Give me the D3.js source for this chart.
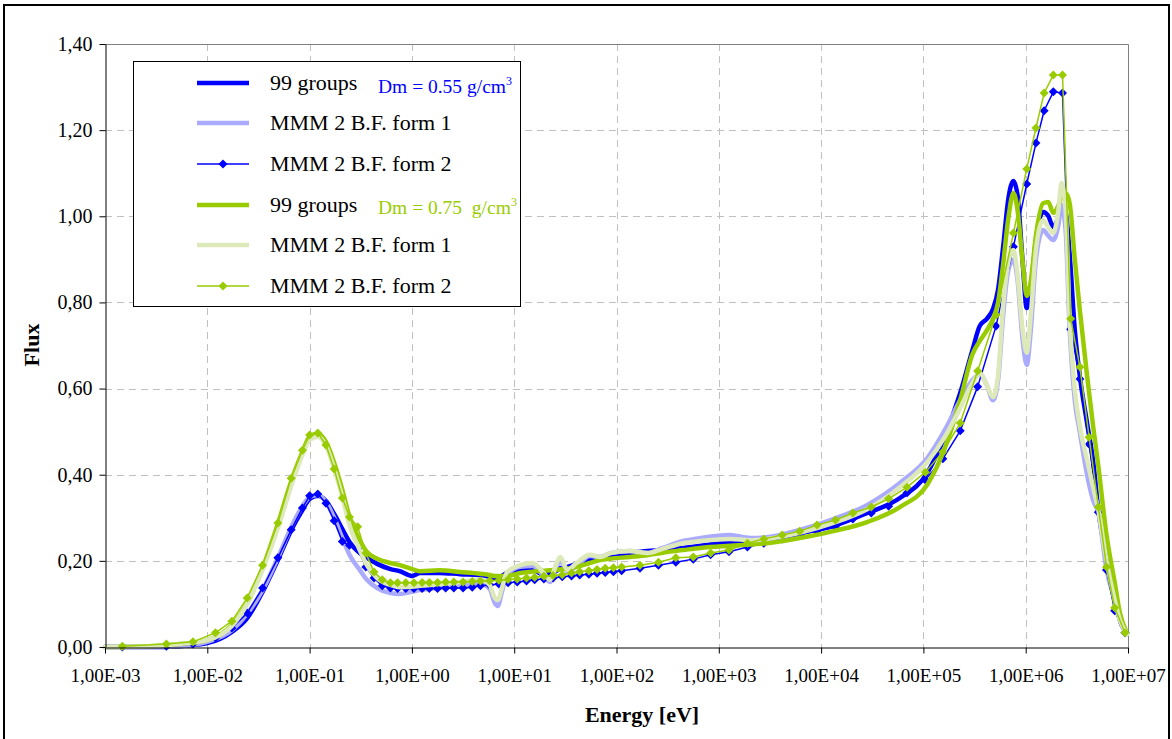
<!DOCTYPE html>
<html><head><meta charset="utf-8">
<script src="https://cdn.jsdelivr.net/npm/d3@7"></script>
<style>body{margin:0;background:#fff} svg text{font-family:'Liberation Serif','Times New Roman',Tinos,'DejaVu Serif','Noto Serif',serif;}</style>
</head><body>
<svg id="chart" width="1172" height="739"></svg>
<script>
// ---------- DATA (log10 of energy in eV, flux) ----------
const logESmooth = [-3.00,-2.56,-2.27,-2.00,-1.76,-1.61,-1.46,-1.31,-1.17,-1.07,
 -1.00,-0.92,-0.84,-0.76,-0.68,-0.61,-0.51,-0.44,-0.34,-0.21,
 -0.12,0.00,0.08,0.27,0.47,0.67,0.76,0.81,0.84,0.88,
 0.93,1.06,1.18,1.28,1.35,1.41,1.45,1.52,1.61,1.74,
 1.84,1.94,2.13,2.30,2.45,2.65,2.82,3.11,3.31,3.47,
 3.79,4.12,4.45,4.77,5.04,5.21,5.36,5.48,5.55,5.62,
 5.68,5.73,5.78,5.83,5.88,5.92,5.97,6.01,6.05,6.10,
 6.17,6.22,6.27,6.32,6.35,6.39,6.43,6.48,6.53,6.60,
 6.66,6.71,6.79,6.87,6.92,6.99];

const blue99 = [0.000,0.000,0.002,0.009,0.035,0.067,0.128,0.202,0.276,0.318,
 0.344,0.351,0.339,0.309,0.274,0.244,0.218,0.207,0.193,0.181,
 0.176,0.165,0.172,0.172,0.169,0.167,0.163,0.160,0.160,0.165,
 0.172,0.179,0.179,0.169,0.169,0.176,0.183,0.186,0.193,0.202,
 0.207,0.211,0.218,0.223,0.225,0.230,0.235,0.244,0.246,0.251,
 0.265,0.281,0.311,0.346,0.405,0.490,0.590,0.690,0.745,0.762,
 0.785,0.830,0.930,1.040,1.082,1.049,0.894,0.787,0.829,0.945,
 1.010,1.001,0.975,0.998,1.019,1.010,0.910,0.736,0.627,0.520,
 0.430,0.318,0.210,0.120,0.063,0.033];

const blueForm1 = [0.000,0.000,0.002,0.012,0.039,0.077,0.132,0.207,0.283,0.327,
 0.348,0.353,0.337,0.300,0.253,0.214,0.179,0.156,0.137,0.125,
 0.123,0.128,0.132,0.137,0.142,0.146,0.135,0.102,0.095,0.128,
 0.167,0.186,0.188,0.167,0.151,0.185,0.200,0.176,0.188,0.211,
 0.209,0.218,0.223,0.218,0.230,0.246,0.253,0.260,0.253,0.255,
 0.272,0.297,0.330,0.381,0.439,0.504,0.573,0.620,0.634,0.608,
 0.573,0.620,0.771,0.875,0.899,0.852,0.713,0.655,0.736,0.899,
 0.968,0.955,0.945,0.980,1.026,0.968,0.736,0.573,0.497,0.400,
 0.340,0.311,0.180,0.109,0.063,0.030];

const green99 = [0.000,0.002,0.007,0.016,0.051,0.102,0.183,0.286,0.392,0.453,
 0.488,0.495,0.476,0.428,0.365,0.302,0.248,0.221,0.205,0.195,
 0.190,0.181,0.176,0.178,0.174,0.170,0.167,0.165,0.165,0.165,
 0.165,0.172,0.175,0.177,0.178,0.179,0.180,0.182,0.186,0.195,
 0.202,0.205,0.209,0.213,0.219,0.225,0.230,0.235,0.238,0.241,
 0.253,0.269,0.290,0.325,0.378,0.462,0.573,0.680,0.710,0.735,
 0.762,0.800,0.890,0.995,1.054,1.015,0.894,0.815,0.850,0.955,
 1.030,1.033,1.008,1.025,1.045,1.054,1.030,0.900,0.780,0.630,
 0.511,0.420,0.260,0.150,0.080,0.032];

const greenForm1 = [0.000,0.002,0.007,0.016,0.049,0.100,0.179,0.276,0.381,0.446,
 0.481,0.488,0.467,0.414,0.348,0.283,0.225,0.190,0.160,0.144,
 0.139,0.140,0.142,0.146,0.151,0.156,0.144,0.114,0.109,0.137,
 0.174,0.190,0.195,0.174,0.156,0.192,0.209,0.179,0.195,0.214,
 0.209,0.218,0.223,0.218,0.228,0.241,0.246,0.251,0.248,0.251,
 0.265,0.288,0.320,0.371,0.430,0.488,0.555,0.613,0.636,0.608,
 0.580,0.631,0.794,0.894,0.922,0.864,0.736,0.683,0.771,0.922,
 0.991,0.975,0.961,1.015,1.077,1.015,0.759,0.597,0.511,0.434,
 0.370,0.318,0.200,0.109,0.063,0.030];

const logEForm2 = [-2.83,-2.40,-2.14,-1.92,-1.76,-1.61,-1.46,-1.31,-1.18,-1.07,
 -1.00,-0.92,-0.84,-0.76,-0.68,-0.61,-0.53,-0.45,-0.37,-0.29,
 -0.21,-0.14,-0.06,0.02,0.10,0.17,0.25,0.33,0.41,0.50,
 0.59,0.67,0.76,0.85,0.94,1.03,1.12,1.20,1.29,1.38,
 1.47,1.56,1.64,1.73,1.81,1.89,1.97,2.05,2.23,2.41,
 2.58,2.75,2.92,3.10,3.28,3.44,3.62,3.79,3.96,4.14,
 4.31,4.49,4.66,4.84,5.02,5.19,5.36,5.53,5.71,5.88,
 6.01,6.10,6.18,6.27,6.36,6.44,6.53,6.62,6.71,6.79,
 6.87,6.97];

const blueForm2 = [0.000,0.002,0.007,0.021,0.044,0.079,0.137,0.207,0.272,0.323,
 0.351,0.355,0.334,0.293,0.245,0.236,0.228,0.186,0.160,0.142,
 0.137,0.136,0.136,0.136,0.136,0.136,0.136,0.137,0.137,0.137,
 0.139,0.142,0.144,0.146,0.149,0.151,0.153,0.156,0.158,0.160,
 0.163,0.165,0.167,0.169,0.171,0.173,0.175,0.177,0.183,0.190,
 0.197,0.204,0.214,0.221,0.232,0.241,0.251,0.260,0.269,0.279,
 0.297,0.311,0.327,0.358,0.388,0.437,0.502,0.604,0.745,0.929,
 1.075,1.170,1.245,1.289,1.286,0.738,0.622,0.471,0.313,0.179,
 0.084,0.033];

const greenForm2 = [0.002,0.007,0.012,0.033,0.060,0.114,0.190,0.288,0.392,0.457,
 0.492,0.497,0.469,0.413,0.346,0.302,0.279,0.218,0.174,0.156,
 0.149,0.149,0.149,0.149,0.150,0.150,0.150,0.151,0.151,0.151,
 0.152,0.153,0.154,0.155,0.157,0.158,0.160,0.162,0.164,0.166,
 0.168,0.172,0.175,0.177,0.180,0.183,0.184,0.186,0.190,0.197,
 0.207,0.209,0.218,0.225,0.241,0.251,0.260,0.269,0.283,0.295,
 0.311,0.325,0.344,0.371,0.406,0.453,0.520,0.641,0.771,0.961,
 1.110,1.205,1.286,1.328,1.328,0.762,0.650,0.487,0.325,0.186,
 0.091,0.033];

const xTickValues = [1e-3,1e-2,1e-1,1e0,1e1,1e2,1e3,1e4,1e5,1e6,1e7];
const xTickLabels = ['1,00E-03','1,00E-02','1,00E-01','1,00E+00','1,00E+01','1,00E+02','1,00E+03','1,00E+04','1,00E+05','1,00E+06','1,00E+07'];
const yTickValues = [0,0.2,0.4,0.6,0.8,1.0,1.2,1.4];
const yTickLabels = ['0,00','0,20','0,40','0,60','0,80','1,00','1,20','1,40'];
const legendLabels = ['99 groups','MMM 2 B.F. form 1','MMM 2 B.F. form 2','99 groups','MMM 2 B.F. form 1','MMM 2 B.F. form 2'];

// ---------- CHART ----------
const W = 1172, H = 739;
const FONT = "'Liberation Serif','Times New Roman',Tinos,'DejaVu Serif','Noto Serif',serif";
const svg = d3.select('#chart');
svg.append('rect').attr('width', W).attr('height', H).attr('fill', '#fff');
svg.append('rect').attr('x', 4).attr('y', 5).attr('width', 1165).attr('height', 760)
  .attr('fill', 'none').attr('stroke', '#000').attr('stroke-width', 2);

const x = d3.scaleLog().domain([1e-3, 1e7]).range([105, 1128]);
const y = d3.scaleLinear().domain([0, 1.4]).range([647, 44]);

// grid
const grid = svg.append('g').attr('stroke', '#c0c0c0').attr('stroke-width', 1).attr('stroke-dasharray', '7,5');
yTickValues.slice(1, -1).forEach(v => grid.append('line')
  .attr('x1', x(1e-3)).attr('x2', x(1e7)).attr('y1', Math.round(y(v)) + 0.5).attr('y2', Math.round(y(v)) + 0.5));
xTickValues.slice(1, -1).forEach(v => grid.append('line')
  .attr('x1', Math.round(x(v)) + 0.5).attr('x2', Math.round(x(v)) + 0.5).attr('y1', y(1.4)).attr('y2', y(0)));
// plot border top/right
svg.append('path').attr('d', `M${x(1e-3)},${y(1.4)+0.5}H${x(1e7)+0.5}V${y(0)}`)
  .attr('fill', 'none').attr('stroke', '#808080').attr('stroke-width', 1);

// series
const series = [
  {name: 'blue99', logE: logESmooth, v: blue99, color: '#0000ff', w: 4.5, curve: d3.curveMonotoneX, marker: false},
  {name: 'blueF1', logE: logESmooth, v: blueForm1, color: '#aaaaff', w: 4.5, curve: d3.curveMonotoneX, marker: false},
  {name: 'blueF2', logE: logEForm2, v: blueForm2, color: '#0000ff', w: 1.5, curve: d3.curveLinear, marker: true},
  {name: 'green99', logE: logESmooth, v: green99, color: '#99cc00', w: 4.5, curve: d3.curveMonotoneX, marker: false},
  {name: 'greenF1', logE: logESmooth, v: greenForm1, color: '#dde9b9', w: 4.5, curve: d3.curveMonotoneX, marker: false},
  {name: 'greenF2', logE: logEForm2, v: greenForm2, color: '#99cc00', w: 1.5, curve: d3.curveLinear, marker: true}
];
const diamond = r => `M0,${-r}L${r},0L0,${r}L${-r},0Z`;
const plot = svg.append('g');
series.forEach(s => {
  const pts = s.logE.map((e, i) => [Math.pow(10, e), s.v[i]]);
  const line = d3.line().x(d => x(d[0])).y(d => y(d[1])).curve(s.curve);
  plot.append('path').datum(pts).attr('d', line).attr('fill', 'none')
    .attr('stroke', s.color).attr('stroke-width', s.w).attr('stroke-linejoin', 'round').attr('stroke-linecap', 'round');
  if (s.marker) {
    plot.append('g').selectAll('path').data(pts).join('path')
      .attr('d', diamond(4.5)).attr('transform', d => `translate(${x(d[0])},${y(d[1])})`)
      .attr('fill', s.color);
  }
});

// axes
const yAxis = d3.axisLeft(y).tickValues(yTickValues).tickSize(6).tickSizeOuter(0).tickPadding(7)
  .tickFormat((d, i) => yTickLabels[i]);
const gy = svg.append('g').attr('transform', 'translate(105.5,0)').call(yAxis);
const xAxis = d3.axisBottom(x).tickValues(xTickValues).tickSize(6).tickSizeOuter(0).tickPadding(15)
  .tickFormat((d, i) => xTickLabels[i]);
const gx = svg.append('g').attr('transform', 'translate(0,647.5)').call(xAxis);
[gx, gy].forEach(g => {
  g.attr('font-family', null);
  g.select('.domain').attr('stroke', '#000');
  g.selectAll('.tick line').attr('stroke', '#000');
  g.selectAll('text').style('font-family', FONT).attr('fill', '#000');
});
gx.selectAll('text').attr('font-size', 19);
gy.selectAll('text').attr('font-size', 20);

// axis titles
svg.append('text').attr('x', 642).attr('y', 722).attr('text-anchor', 'middle')
  .style('font-family', FONT).attr('font-weight', 'bold').attr('font-size', 22).text('Energy [eV]');
svg.append('text').attr('transform', 'translate(39,345) rotate(-90)').attr('text-anchor', 'middle')
  .style('font-family', FONT).attr('font-weight', 'bold').attr('font-size', 22).text('Flux');

// legend
const lg = svg.append('g');
lg.append('rect').attr('x', 133.5).attr('y', 61.5).attr('width', 387).attr('height', 245)
  .attr('fill', '#fff').attr('stroke', '#000').attr('stroke-width', 1);
const rowY = [83, 123, 164, 205, 245, 286];
series.forEach((s, i) => {
  const yy = rowY[i];
  lg.append('line').attr('x1', 197).attr('x2', 249).attr('y1', yy).attr('y2', yy)
    .attr('stroke', s.color).attr('stroke-width', s.w);
  if (s.marker) lg.append('path').attr('d', diamond(4.5)).attr('transform', `translate(223,${yy})`).attr('fill', s.color);
  lg.append('text').attr('x', 270).attr('y', yy + 7).style('font-family', FONT).attr('font-size', 22)
    .attr('fill', '#000').text(legendLabels[i]);
});
const dmTexts = [
  {t: 'Dm = 0.55 g/cm', y: 93, color: '#0000ff'},
  {t: 'Dm = 0.75  g/cm', y: 214, color: '#99cc00'}
];
dmTexts.forEach(d => {
  const t = lg.append('text').attr('x', 378).attr('y', d.y).style('font-family', FONT).attr('font-size', 19.5)
    .attr('fill', d.color).style('white-space', 'pre');
  t.append('tspan').text(d.t);
  t.append('tspan').attr('dy', -8).attr('font-size', 12).text('3');
});
</script>
</body></html>
